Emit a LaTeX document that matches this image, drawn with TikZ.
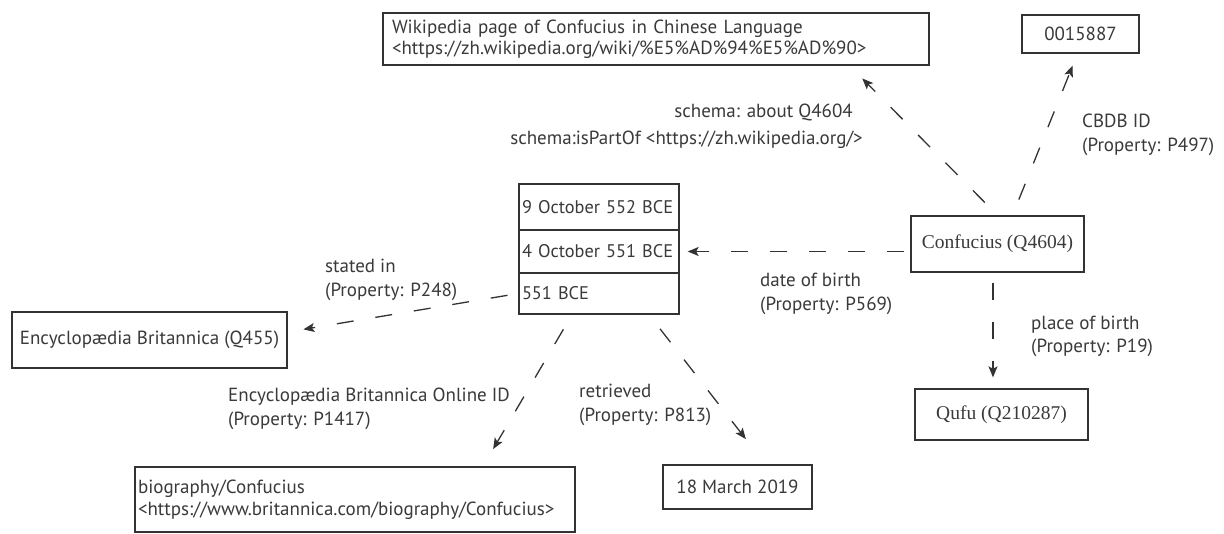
\documentclass[tikz,border=0pt]{standalone}
\usepackage{fontspec}
\setmainfont{PT Sans}
\newfontfamily\serifbox{Liberation Serif}
\usetikzlibrary{arrows.meta}
\definecolor{ink}{HTML}{333333}
\definecolor{txt}{HTML}{3A3A3A}
\tikzset{
  box/.style={draw=ink, line width=1.3pt, text=txt, rectangle, inner sep=0pt},
  datebox/.style={box, minimum width=160, text width=154, align=left, font=\fontsize{18.3}{22}\selectfont},
  lbl/.style={text=txt, align=left, inner sep=0pt},
  rel/.style={draw=ink, line width=1.3pt, dash pattern=on 17pt off 22pt,
    -{Stealth[length=11pt,width=9pt,inset=2.5pt]}},
}
\begin{document}
\begin{tikzpicture}[x=1pt,y=-1pt,font=\fontsize{19}{23.5}\selectfont]
\useasboundingbox[fill=white] (0,0) rectangle (1224,533);

% nodes
\node[box, minimum width=546, minimum height=52, text width=528, align=left] (wiki) at (656,39)
  {Wikipedia page of Confucius in Chinese Language\\[-2.5pt]<https://zh.wikipedia.org/wiki/\%E5\%AD\%94\%E5\%AD\%90>};
\node[box, minimum width=117, minimum height=38] (id) at (1080.5,34) {0015887};
\node[datebox, minimum height=46] (d1) at (599,207) {9 October 552 BCE};
\node[datebox, minimum height=43] (d2) at (599,251.5) {4 October 551 BCE};
\node[datebox, minimum height=41] (d3) at (599,293.5) {551 BCE};
\node[box, minimum width=173, minimum height=56, font=\serifbox\fontsize{19.5}{22}\selectfont] (conf) at (997.5,244) {Confucius (Q4604)};
\node[box, minimum width=173, minimum height=51, font=\serifbox\fontsize{19.5}{22}\selectfont] (qufu) at (1001.5,414.5) {Qufu (Q210287)};
\node[box, minimum width=275, minimum height=56] (ency) at (149.5,340) {Encyclopædia Britannica (Q455)};
\node[box, minimum width=440, minimum height=65, text width=434, align=left] (bio) at (355,499.5)
  {biography/Confucius\\[-1pt]<https://www.britannica.com/biography/Confucius>};
\node[box, minimum width=149, minimum height=44] (march) at (737.5,487) {18 March 2019};

% connectors
\draw[rel, shorten <=18pt, shorten >=18pt] (conf.north) -- ([xshift=-80pt]wiki.south east);
\draw[rel, shorten <=17pt, shorten >=13pt] ([xshift=15pt]conf.north) -- ([xshift=-3pt]id.south);
\draw[rel, shorten <=6pt, shorten >=8pt] (conf.west |- d2.east) -- (d2.east);
\draw[rel, shorten <=10pt, shorten >=11pt] ([xshift=-8.5pt]qufu.north |- conf.south) -- ([xshift=-8.5pt]qufu.north);
\draw[rel, shorten <=11pt, shorten >=16pt] (d3.west) -- ([yshift=8pt]ency.east);
\draw[rel, shorten <=17pt, shorten >=20pt] ([xshift=-27pt]d3.south) -- ([xshift=128pt]bio.north);
\draw[rel, shorten <=18pt, shorten >=32pt] ([xshift=50pt]d3.south) -- ([xshift=28pt]march.north);

% labels
\node[lbl, anchor=east] (sa) at (853,112) {schema: about Q4604};
\node[lbl, anchor=east] (sp) at (863,140) {schema:isPartOf <https://zh.wikipedia.org/>};
\node[lbl, anchor=west] (lcbdb) at (1082,135) {CBDB ID\\(Property: P497)};
\node[lbl, anchor=west] (ldob) at (760,294) {date of birth\\(Property: P569)};
\node[lbl, anchor=west] (lpob) at (1031,336.5) {place of birth\\(Property: P19)};
\node[lbl, anchor=west] (lstat) at (325,280) {stated in\\(Property: P248)};
\node[lbl, anchor=west] (lonl) at (228,409) {Encyclopædia Britannica Online ID\\(Property: P1417)};
\node[lbl, anchor=west] (lret) at (579,405) {retrieved\\(Property: P813)};
\end{tikzpicture}
\end{document}
